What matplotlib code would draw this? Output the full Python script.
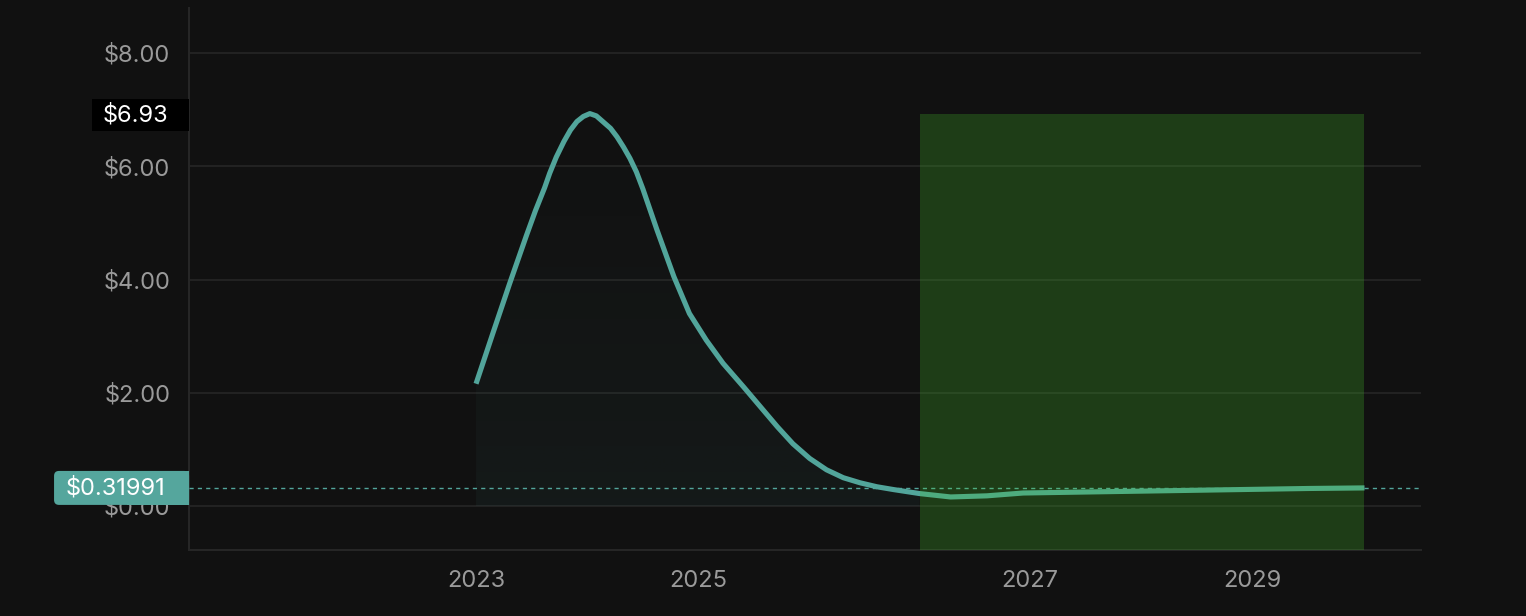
import matplotlib.pyplot as plt
import matplotlib.transforms as mtransforms
from matplotlib.patches import FancyBboxPatch, Rectangle
import numpy as np

plt.rcParams['font.family'] = ['Inter', 'DejaVu Sans']

# price history + forecast (x in fractional years)
years = [2023.00, 2023.13, 2023.26, 2023.39, 2023.46, 2023.53, 2023.57, 2023.62,
         2023.68, 2023.73, 2023.78, 2023.83, 2023.88, 2023.93, 2023.98, 2024.04,
         2024.09, 2024.14, 2024.19, 2024.24, 2024.29, 2024.40, 2024.53, 2024.65,
         2024.78, 2024.91, 2025.07, 2025.20, 2025.33, 2025.45, 2025.58, 2025.71,
         2025.84, 2025.97, 2026.10, 2026.23, 2026.43, 2026.67, 2026.95, 2027.23,
         2027.78, 2028.61, 2029.44, 2029.87]
prices = [2.16, 3.05, 3.93, 4.78, 5.22, 5.62, 5.88, 6.16,
          6.44, 6.64, 6.79, 6.88, 6.93, 6.89, 6.79, 6.67,
          6.52, 6.34, 6.14, 5.90, 5.60, 4.87, 4.05, 3.40,
          2.93, 2.52, 2.10, 1.75, 1.40, 1.10, 0.84, 0.64,
          0.50, 0.41, 0.34, 0.29, 0.22, 0.16, 0.18, 0.23,
          0.25, 0.28, 0.31, 0.32]

current_price = 0.31991
peak_price = 6.93
forecast_start = 2026.43
forecast_end = 2029.87

ytick_vals = [0, 2, 4, 6, 8]
xtick_pos = [2023, 2024.72, 2027.28, 2029]
xtick_labels = ['2023', '2025', '2027', '2029']

bg = '#111111'
teal = '#52a59b'
tick_col = '#9a9a9a'

fig = plt.figure(figsize=(15.26, 6.16), dpi=100, facecolor=bg)
ax = fig.add_axes([0.1239, 0.1071, 0.8073, 0.8799])
ax.set_facecolor(bg)

x = np.array(years)
y = np.array(prices)
ymin, ymax = -0.777, 8.795
xmin, xmax = 2020.781, 2030.307

# gradient fill under the curve
hist = x <= forecast_start
poly = ax.fill_between(x[hist], y[hist], 0, color='none', lw=0)
grad = np.zeros((256, 1, 4))
grad[..., 0] = 82 / 255
grad[..., 1] = 165 / 255
grad[..., 2] = 155 / 255
grad[..., 3] = np.linspace(0.0, 0.06, 256).reshape(-1, 1)
im = ax.imshow(grad, extent=[x[0], forecast_start, 0, peak_price], aspect='auto',
               origin='upper', zorder=1)
im.set_clip_path(poly.get_paths()[0], transform=ax.transData)

ax.plot(x, y, color=teal, lw=3.7, solid_capstyle='butt',
        solid_joinstyle='round', zorder=3)
ax.axhline(current_price, color=teal, lw=1, dashes=(3, 3), zorder=3)

# forecast area
ax.add_patch(Rectangle((forecast_start, ymin), forecast_end - forecast_start,
                       peak_price - ymin, facecolor='#45c129', alpha=0.25,
                       lw=0, zorder=4))

ax.set_xlim(xmin, xmax)
ax.set_ylim(ymin, ymax)

ax.set_yticks(ytick_vals)
ax.set_yticklabels(['$%.2f' % v for v in ytick_vals])
ax.set_xticks(xtick_pos)
ax.set_xticklabels(xtick_labels)
ax.tick_params(axis='y', length=0, pad=13.5, labelsize=17, labelcolor=tick_col)
ax.tick_params(axis='x', length=0, pad=14.5, labelsize=17, labelcolor=tick_col)
ax.grid(axis='y', color='#242424', lw=1.3)
ax.set_axisbelow(True)

for s in ['top', 'right']:
    ax.spines[s].set_visible(False)
for s in ['left', 'bottom']:
    ax.spines[s].set_color('#262626')
    ax.spines[s].set_linewidth(1.5)

trans = mtransforms.blended_transform_factory(ax.transAxes, ax.transData)

# peak label
ax.add_patch(Rectangle((-0.0787, peak_price - 0.30), 0.0787, 0.55,
                       transform=trans, facecolor='black', lw=0,
                       clip_on=False, zorder=6))
ax.text(-0.0165, peak_price - 0.03, '$%.2f' % peak_price, transform=trans,
        ha='right', va='center', color='white', fontsize=17,
        clip_on=False, zorder=7)

# current price label
ax.add_patch(FancyBboxPatch((-0.1096, current_price - 0.30), 0.1096, 0.60,
                            boxstyle='round,pad=0,rounding_size=0.004',
                            mutation_aspect=21.76, transform=trans,
                            facecolor='#55a69d', lw=0, clip_on=False, zorder=6))
ax.add_patch(Rectangle((-0.05, current_price - 0.30), 0.05, 0.60,
                       transform=trans, facecolor='#55a69d', lw=0,
                       clip_on=False, zorder=6))
ax.text(-0.1, current_price, '$%.5f' % current_price, transform=trans,
        ha='left', va='center', color='white', fontsize=17,
        clip_on=False, zorder=7)

fig.savefig('out.png', dpi=100, facecolor=bg)
